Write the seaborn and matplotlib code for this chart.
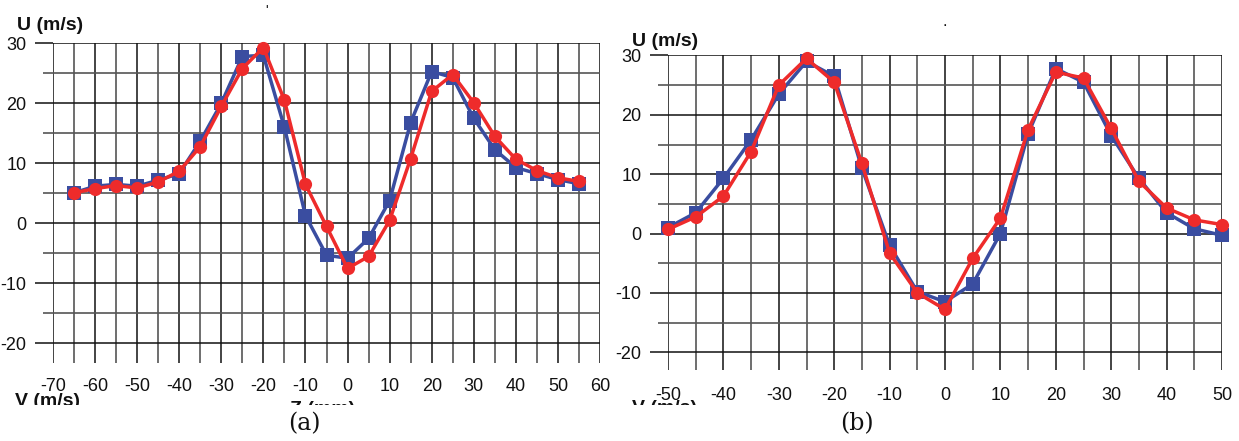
import matplotlib
matplotlib.use("Agg")
import matplotlib.pyplot as plt
from matplotlib.patches import Rectangle
from matplotlib.ticker import MultipleLocator
import numpy as np
import pandas as pd
import seaborn as sns

# ---------------- data ----------------
z_a = [-65, -60, -55, -50, -45, -40, -35, -30, -25, -20, -15, -10, -5, 0, 5,
       10, 15, 20, 25, 30, 35, 40, 45, 50, 55]
blue_a = [5.1, 6.2, 6.5, 6.2, 7.2, 8.3, 13.7, 20.0, 27.8, 28.0, 16.0, 1.3, -5.3,
          -5.8, -2.5, 3.8, 16.8, 25.3, 24.3, 17.5, 12.3, 9.3, 8.3, 7.3, 6.6]
red_a = [5.1, 5.8, 6.3, 5.9, 6.9, 8.7, 12.8, 19.5, 25.8, 29.3, 20.5, 6.5, -0.5,
         -7.5, -5.5, 0.5, 10.8, 22.0, 24.8, 20.1, 14.5, 10.7, 8.8, 7.6, 7.0]

z_b = [-50, -45, -40, -35, -30, -25, -20, -15, -10, -5, 0, 5, 10, 15, 20, 25,
       30, 35, 40, 45, 50]
blue_b = [1.0, 3.5, 9.3, 15.8, 23.5, 29.0, 26.5, 11.0, -2.0, -9.8, -11.5, -8.5,
          0.0, 16.8, 27.8, 25.5, 16.5, 9.3, 3.5, 0.8, -0.3]
red_b = [0.7, 2.8, 6.3, 13.8, 25.0, 29.5, 25.5, 11.8, -3.3, -10.0, -12.8, -4.2,
         2.6, 17.5, 27.2, 26.2, 17.7, 8.8, 4.3, 2.3, 1.5]

xticks_a = list(range(-70, 61, 10))
xticks_b = list(range(-50, 51, 10))
yticks = [-20, -10, 0, 10, 20, 30]

BLUE = "#3a4da0"
RED = "#ee2b2b"

sns.set_theme(style="white")
plt.rcParams["font.family"] = ["Liberation Sans", "DejaVu Sans"]
plt.rcParams["axes.unicode_minus"] = False

W, H = 1239, 441
fig = plt.figure(figsize=(W / 100, H / 100), dpi=100)


def px_axes(left, right, top, bottom):
    return fig.add_axes([left / W, 1 - bottom / H, (right - left) / W, (bottom - top) / H])


def style(ax, xlim, ylim, xticks, xpad):
    ax.set_xlim(*xlim)
    ax.set_ylim(*ylim)
    for s in ax.spines.values():
        s.set_visible(False)
    ax.set_xticks(xticks)
    ax.xaxis.set_minor_locator(MultipleLocator(5))
    ax.set_yticks(yticks)
    ax.yaxis.set_minor_locator(MultipleLocator(5))
    ax.grid(which="major", color="#111111", linewidth=1.1)
    ax.grid(which="minor", color="#555555", linewidth=1.2)
    ax.tick_params(axis="y", which="major", left=True, length=13, width=1.1,
                   color="#111111", pad=6, labelsize=13, labelcolor="#111111")
    ax.tick_params(axis="y", which="minor", left=True, length=7, width=1.2,
                   color="#555555")
    ax.tick_params(axis="x", which="both", bottom=False, length=0, pad=xpad,
                   labelsize=13, labelcolor="#111111")
    ax.set_xlabel("")
    ax.set_ylabel("")
    ax.set_axisbelow(True)


def draw(ax, x, b, r):
    df = pd.DataFrame({"z": x + x, "u": b + r,
                       "s": ["blue"] * len(x) + ["red"] * len(x)})
    sns.lineplot(data=df[df.s == "blue"], x="z", y="u", ax=ax, color=BLUE,
                 marker="s", markersize=9.5, markeredgewidth=0, linewidth=2.5,
                 clip_on=False, zorder=3)
    sns.lineplot(data=df[df.s == "red"], x="z", y="u", ax=ax, color=RED,
                 marker="o", markersize=9.5, markeredgewidth=0, linewidth=2.5,
                 clip_on=False, zorder=4)


# panel (a)
ax1 = px_axes(53, 600, 43.3, 362.7)
draw(ax1, z_a, blue_a, red_a)
style(ax1, (-70, 60), (-23.2, 30), xticks_a, 11)

# panel (b)
ax2 = px_axes(668, 1222, 55.5, 370)
draw(ax2, z_b, blue_b, red_b)
style(ax2, (-50, 50), (-23.0, 30), xticks_b, 12)

# axis titles
bold = dict(fontsize=14, fontweight="bold", color="#111111")
fig.text(17 / W, 1 - 29.5 / H, "U (m/s)", ha="left", va="baseline", **bold)
fig.text(632 / W, 1 - 46 / H, "U (m/s)", ha="left", va="baseline", **bold)
fig.text(15 / W, 1 - 393 / H, "V (m/s)", ha="left", va="top", **bold)
fig.text(290 / W, 1 - 401 / H, "Z (mm)", ha="left", va="top", **bold)
fig.text(632 / W, 1 - 400 / H, "V (m/s)", ha="left", va="top", **bold)

# small marks at top
fig.text(267 / W, 1 - 4 / H, "'", ha="center", va="top", fontsize=10, color="#111111")
fig.text(945 / W, 1 - 14 / H, ".", ha="center", va="top", fontsize=12, color="#111111")

# white band (crop)
fig.add_artist(Rectangle((0, 0), 1, (H - 405) / H, transform=fig.transFigure,
                         facecolor="white", edgecolor="none", zorder=10))

serif = dict(fontsize=17, family=["DejaVu Serif"], color="#111111", zorder=11)
fig.text(304 / W, 1 - 424 / H, "(a)", ha="center", va="center", **serif)
fig.text(857 / W, 1 - 424 / H, "(b)", ha="center", va="center", **serif)

fig.savefig("out.png", dpi=100, facecolor="white")
